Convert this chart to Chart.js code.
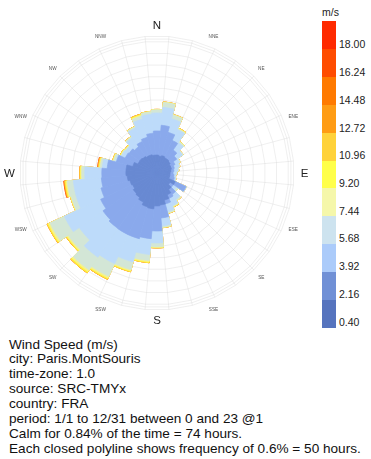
<!DOCTYPE html>
<html><head><meta charset="utf-8">
<script src="https://cdn.jsdelivr.net/npm/chart.js@4/dist/chart.umd.min.js"></script>
<style>
html,body{margin:0;padding:0;background:#fff;width:371px;height:459px;overflow:hidden;font-family:"Liberation Sans",Arial,sans-serif;}
#wrap{position:absolute;left:0;top:0;width:314px;height:330px;}
.box{position:absolute;left:322px;width:14px;}
.lab{position:absolute;left:339px;font-size:10.5px;line-height:12px;color:#222;white-space:nowrap;}
#info{position:absolute;left:9px;top:337.6px;font-size:13.6px;line-height:14.86px;color:#111;white-space:nowrap;}
</style></head>
<body>
<div id="wrap"><canvas id="c" width="314" height="330"></canvas></div>
<div id="legend"></div>
<div id="info"></div>
<script>
// wind directions (degrees, 10° sectors, clockwise from north)
const directions = [0,10,20,30,40,50,60,70,80,90,100,110,120,130,140,150,160,170,180,190,200,210,220,230,240,250,260,270,280,290,300,310,320,330,340,350];
// hours per direction for each wind speed bin (m/s)
const bin_040_216 = [64,60,64,60,60,56,51,51,47,43,43,43,73,56,73,90,107,124,128,141,137,124,115,111,103,107,115,120,120,94,77,77,73,68,68,64];
const bin_216_392 = [103,132,103,81,47,34,21,13,13,13,17,21,51,17,26,17,17,56,107,128,141,154,162,158,150,128,111,103,81,73,60,56,51,68,77,94];
const bin_392_568 = [77,77,60,51,38,30,21,21,17,13,6,6,2,17,26,34,34,34,51,68,103,137,150,124,171,111,120,73,21,4,17,17,47,64,81,81];
const bin_568_744 = [13,21,17,4,6,4,4,4,4,4,2,2,0,9,6,4,6,6,17,26,34,60,66,58,68,21,26,13,9,9,4,4,6,6,13,11];
const bin_744_920 = [2,2,2,2,2,0,0,0,0,0,0,0,0,0,2,2,1,1,2,5,5,7,8,6,7,3,5,4,3,2,2,2,1,1,4,1];
const bin_920_1096 = [0,0,0,2,0,0,0,0,0,0,0,0,0,0,0,2,1,1,2,4,4,5,6,4,5,1,4,3,3,2,2,2,1,1,4,1];
const bin_1096_1272 = [0,0,0,0,0,0,0,0,0,0,0,0,0,0,0,0,0,0,0,0,0,1,1,1,1,0,2,1,2,0,0,0,0,0,1,0];
const bin_1272_1448 = [0,0,0,0,0,0,0,0,0,0,0,0,0,0,0,0,0,0,0,0,0,0,0,0,0,0,2,0,2,0,0,0,0,0,0,0];
const bin_1448_1624 = [0,0,0,0,0,0,0,0,0,0,0,0,0,0,0,0,0,0,0,0,0,0,0,0,0,0,2,0,1,0,0,0,0,0,0,0];
const bin_1624_1800 = [0,0,0,0,0,0,0,0,0,0,0,0,0,0,0,0,0,0,0,0,0,0,0,0,0,0,0,0,0,0,0,0,0,0,0,0];
const speedBins = [bin_040_216,bin_216_392,bin_392_568,bin_568_744,bin_744_920,bin_920_1096,bin_1096_1272,bin_1272_1448,bin_1448_1624,bin_1624_1800];
const binColors = ['#6889d2','#8aa9ec','#bddbfa','#d3e6d6','#f7f28a','#fff03a','#ffc232','#ff9420','#ff6412','#ff3400'];
// frequency rings: each closed polyline = 50 hours
const ringHours = [50,100,150,200,250,300,350,400,450,500,550];
const calmHours = 74;
// compass labels
const compassLabels = ['N','NNE','NE','ENE','E','ESE','SE','SSE','S','SSW','SW','WSW','W','WNW','NW','NNW'];
const majorLabels = ['N','E','S','W'];
// legend
const legendTitle = 'm/s';
const legendLabels = ['18.00','16.24','14.48','12.72','10.96','9.20','7.44','5.68','3.92','2.16','0.40'];
const legendColors = ['#ff2a00','#ff4c00','#ff7a00','#ff9c14','#ffd23a','#ffff4a','#f5f7aa','#cde3ef','#abcbfa','#7090d6','#5674be'];
const infoLines = [
  'Wind Speed (m/s)',
  'city: Paris.MontSouris',
  'time-zone: 1.0',
  'source: SRC-TMYx',
  'country: FRA',
  'period: 1/1 to 12/31 between 0 and 23 @1',
  'Calm for 0.84% of the time = 74 hours.',
  'Each closed polyline shows frequency of 0.6% = 50 hours.'
];

// cumulative stacks
const cumulative = [];
let run = directions.map(() => 0);
speedBins.forEach(b => { run = run.map((v, i) => v + b[i]); cumulative.push(run.slice()); });

const ringStep = ringHours[1] - ringHours[0];
const pxPerRing = 11.7, calmPx = 3, R = 137;
const rMin = -calmPx / pxPerRing * ringStep;
const rMax = rMin + R / pxPerRing * ringStep;
const frameTicks = ringHours.concat([rMin + 134.4 / pxPerRing * ringStep, rMax]);

const compassPlugin = {
  id: 'compass',
  afterDraw(chart) {
    const s = chart.scales.r, ctx = chart.ctx;
    const rad = s.drawingArea + 10.5;
    ctx.save();
    ctx.textAlign = 'center'; ctx.textBaseline = 'middle';
    compassLabels.forEach((lab, i) => {
      const a = i * 360 / compassLabels.length * Math.PI / 180;
      const major = majorLabels.includes(lab);
      ctx.font = (major ? '11.5px' : '4.7px') + ' "Liberation Sans", Arial, sans-serif';
      ctx.fillStyle = major ? '#222' : '#555';
      ctx.fillText(lab, s.xCenter + rad * Math.sin(a), s.yCenter - rad * Math.cos(a) + (major ? 0.5 : 0));
    });
    ctx.restore();
  }
};

new Chart(document.getElementById('c'), {
  type: 'polarArea',
  data: {
    labels: directions.map(String),
    datasets: cumulative.map((vals, k) => ({
      label: k,
      data: vals,
      backgroundColor: binColors[k],
      borderColor: binColors[k],
      borderWidth: 0.7
    }))
  },
  options: {
    responsive: false,
    animation: false,
    layout: { padding: { left: 20, top: 36, right: 20, bottom: 20 } },
    plugins: { legend: { display: false }, tooltip: { enabled: false } },
    scales: {
      r: {
        min: rMin, max: rMax,
        startAngle: -5,
        z: 1,
        ticks: { display: false, z: 1 },
        grid: { circular: false, color: 'rgba(205,205,205,0.32)', lineWidth: 1 },
        angleLines: { display: true, color: 'rgba(205,205,205,0.32)', lineWidth: 1 },
        pointLabels: { display: false },
        afterBuildTicks: (s) => { s.ticks = frameTicks.map(v => ({ value: v })); }
      }
    }
  },
  plugins: [compassPlugin]
});

// legend
const lg = document.getElementById('legend');
const t = document.createElement('div');
t.className = 'lab'; t.style.left = '322px'; t.style.top = '5.7px'; t.textContent = legendTitle;
lg.appendChild(t);
const boxTop = 21, boxH = 27.9, labTop = 44.3, labStep = 27.74;
legendColors.forEach((c, i) => {
  const b = document.createElement('div');
  b.className = 'box';
  b.style.top = (boxTop + i * boxH) + 'px';
  b.style.height = (boxH + 0.5) + 'px';
  b.style.background = c;
  lg.appendChild(b);
});
legendLabels.forEach((l, i) => {
  const d = document.createElement('div');
  d.className = 'lab';
  d.style.top = (labTop + i * labStep - 6) + 'px';
  d.textContent = l;
  lg.appendChild(d);
});
document.getElementById('info').innerHTML = infoLines.map(s => '<div>' + s + '</div>').join('');
</script>
</body></html>
